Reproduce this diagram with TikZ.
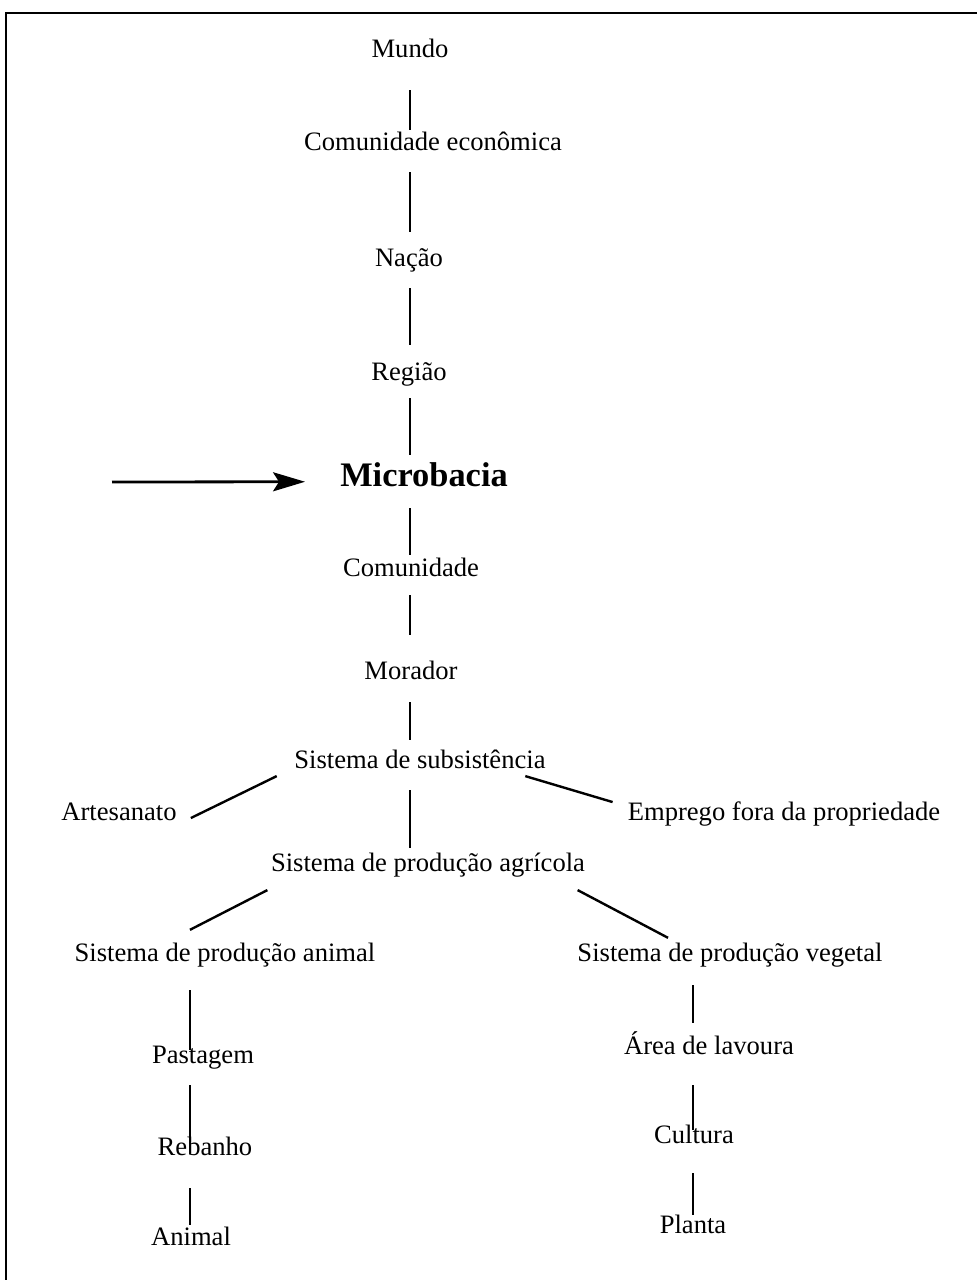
\documentclass[tikz,border=0pt]{standalone}
\usepackage{fontspec}
\setmainfont{Liberation Serif}
\usetikzlibrary{arrows.meta}

\tikzset{
  lbl/.style={font=\fontsize{26.6}{30}\selectfont, inner sep=0pt, anchor=base,
              text height=18.6pt, text depth=5.9pt},
  big/.style={font=\fontsize{34.4}{40}\selectfont\bfseries, inner sep=0pt, anchor=base,
              text height=24.1pt, text depth=7.6pt},
  conn/.style={draw=black, line width=2pt},
  slant/.style={draw=black, line width=2.4pt},
  pointer/.style={draw=black, line width=2.8pt, -{Stealth[length=32pt,width=19pt,inset=6pt]}},
  frame/.style={draw=black, line width=2.6pt}
}

\begin{document}
\begin{tikzpicture}[x=1pt,y=-1pt]
\useasboundingbox (0,0) rectangle (977,1280);

% open frame: top and left edges only
\draw[frame] (6,1280) -- (6,13) -- (977,13);

% spines of the three columns
\coordinate (spine) at (410,0);
\coordinate (lsp) at (190,0);
\coordinate (rsp) at (693,0);

% central hierarchy
\node[lbl] (mundo)   at (410,57)  {Mundo};
\node[lbl] (comecon) at (433,150) {Comunidade econômica};
\node[lbl] (nacao)   at (409,266) {Nação};
\node[lbl] (regiao)  at (409,380) {Região};
\node[big] (micro)   at (424,486) {Microbacia};
\node[lbl] (comun)   at (411,576) {Comunidade};
\node[lbl] (morador) at (411,679) {Morador};
\node[lbl] (subsist) at (420,768) {Sistema de subsistência};
\node[lbl] (artes)   at (119,820) {Artesanato};
\node[lbl] (emprego) at (784,820) {Emprego fora da propriedade};
\node[lbl] (agric)   at (428,871) {Sistema de produção agrícola};

% animal branch
\node[lbl] (animsys) at (225,961)  {Sistema de produção animal};
\node[lbl] (pasto)   at (203,1063) {Pastagem};
\node[lbl] (rebanho) at (205,1155) {Rebanho};
\node[lbl] (animal)  at (191,1245) {Animal};

% plant branch
\node[lbl] (vegsys)  at (730,961)  {Sistema de produção vegetal};
\node[lbl] (lavoura) at (709,1054) {Área de lavoura};
\node[lbl] (cultura) at (694,1143) {Cultura};
\node[lbl] (planta)  at (693,1233) {Planta};

% vertical links along the central spine
\draw[conn, shorten <=27pt, shorten >=1.4pt]  (mundo.south -| spine)   -- (comecon.north -| spine);
\draw[conn, shorten <=16pt, shorten >=15.4pt] (comecon.south -| spine) -- (nacao.north -| spine);
\draw[conn, shorten <=16pt, shorten >=16.4pt] (nacao.south -| spine)   -- (regiao.north -| spine);
\draw[conn, shorten <=12pt, shorten >=7pt]    (regiao.south -| spine)  -- (micro.north -| spine);
\draw[conn, shorten <=14.4pt, shorten >=2.4pt](micro.south -| spine)   -- (comun.north -| spine);
\draw[conn, shorten <=13pt, shorten >=25pt]   (comun.south -| spine)   -- (morador.north -| spine);
\draw[conn, shorten <=17pt, shorten >=9.4pt]  (morador.south -| spine) -- (subsist.north -| spine);
\draw[conn, shorten <=16pt, shorten >=4.4pt]  (subsist.south -| spine) -- (agric.north -| spine);

% slanted links
\draw[slant] ([xshift=-17.5pt,yshift=-2pt]subsist.south west) -- ([xshift=14pt,yshift=-4.4pt]artes.east);
\draw[slant] ([xshift=-20.5pt,yshift=-2pt]subsist.south east) -- ([xshift=-15pt,yshift=11.6pt]emprego.west);
\draw[slant] ([xshift=-3.5pt,yshift=-13pt]agric.south west) -- ([xshift=-35pt,yshift=12.4pt]animsys.north);
\draw[slant] ([xshift=-7.5pt,yshift=-13pt]agric.south east) -- ([xshift=-62pt,yshift=4.4pt]vegsys.north);

% animal column
\draw[conn, shorten <=23pt, shorten >=-5.6pt]  (animsys.south -| lsp) -- (pasto.north -| lsp);
\draw[conn, shorten <=16pt, shorten >=-13.6pt] (pasto.south -| lsp)   -- (rebanho.north -| lsp);
\draw[conn, shorten <=27pt, shorten >=1.4pt]   (rebanho.south -| lsp) -- (animal.north -| lsp);

% plant column
\draw[conn, shorten <=18pt, shorten >=12.4pt] (vegsys.south -| rsp)  -- (lavoura.north -| rsp);
\draw[conn, shorten <=25pt, shorten >=-5.6pt] (lavoura.south -| rsp) -- (cultura.north -| rsp);
\draw[conn, shorten <=24pt, shorten >=-0.6pt] (cultura.south -| rsp) -- (planta.north -| rsp);

% pointer to the level of interest
\coordinate (tail) at (112,482);
\draw[pointer] (tail) -- ([xshift=-35pt,yshift=-4pt]micro.west);
\end{tikzpicture}
\end{document}
